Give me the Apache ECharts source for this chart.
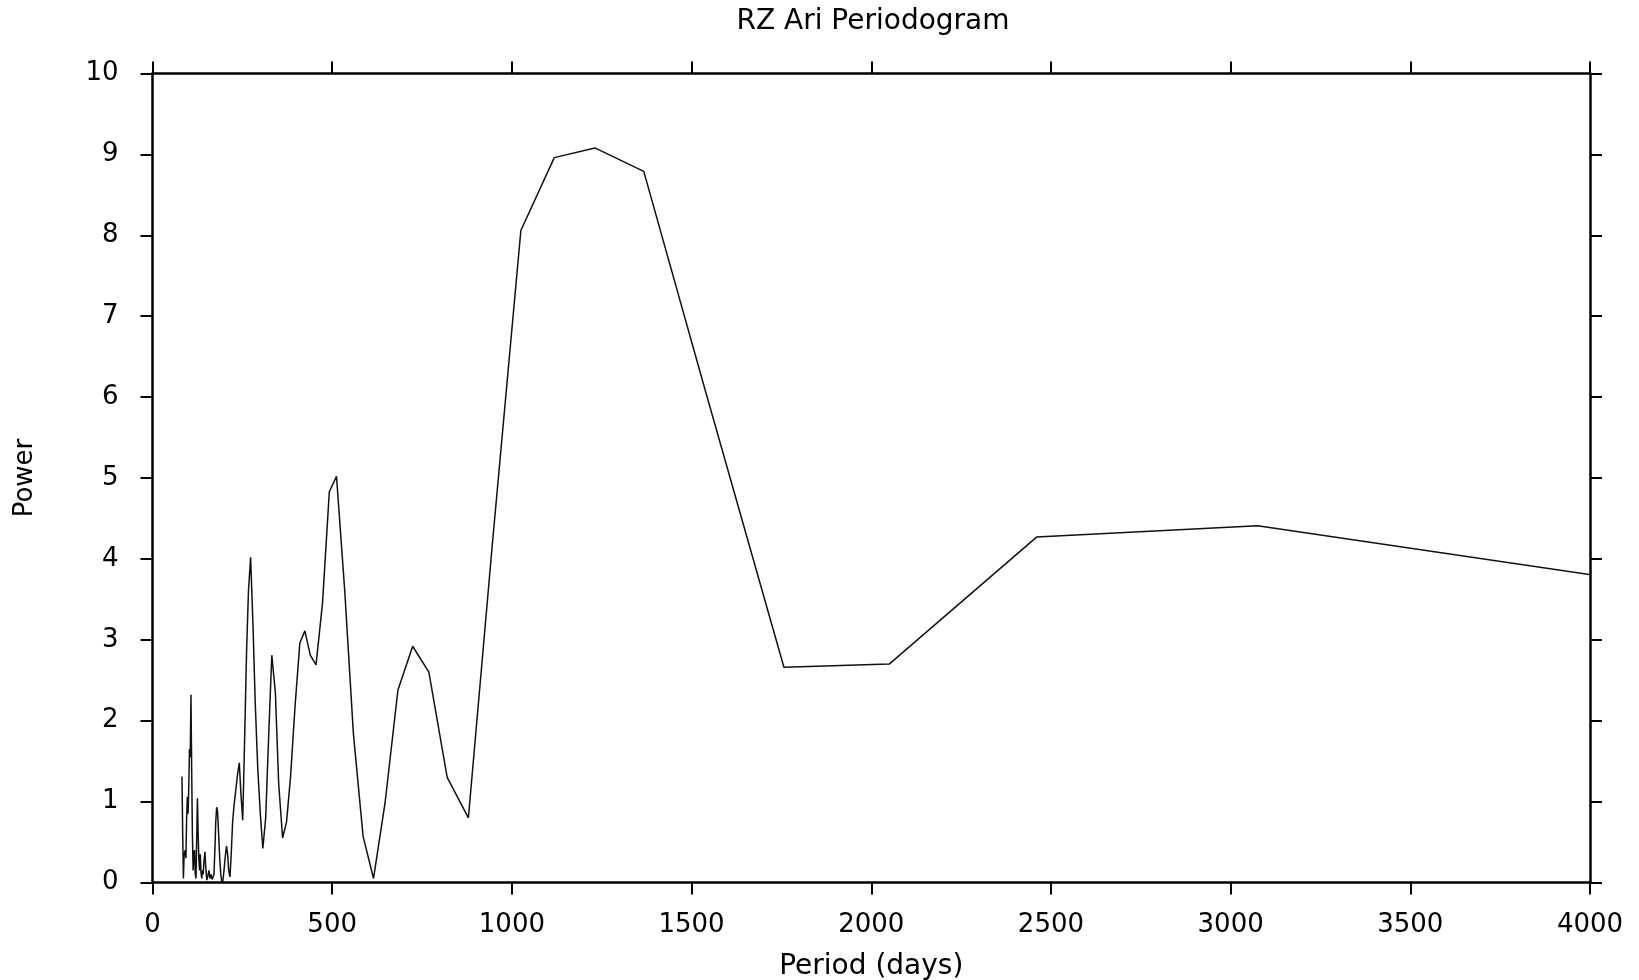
<!DOCTYPE html>
<html>
<head>
<meta charset="utf-8">
<title>RZ Ari Periodogram</title>
<script src="https://cdn.jsdelivr.net/npm/echarts@6/dist/echarts.min.js"></script>
<style>
  html, body { margin: 0; padding: 0; background: #fff; }
  #chart { width: 1639px; height: 980px; }
</style>
</head>
<body>
<div id="chart"></div>
<script>
// Periodogram of RZ Ari: trial period (days) vs. power
const periods = [
  82, 84, 86, 88, 91, 93, 95, 97, 99, 101, 103, 105, 107, 109, 111, 113, 115, 117, 119, 121,
  123, 125, 127, 129, 131, 133, 135, 137, 139, 141, 143, 146, 148, 151, 154, 157, 160, 163, 166, 169,
  171, 174, 176, 178.6, 181, 184, 187, 190, 193, 196, 199, 202, 206, 209, 212, 215.6, 219, 223, 227, 232,
  237, 241.5, 246, 251, 256, 262, 267, 273, 279.5, 286, 293, 300, 307, 315, 324, 332, 342, 351, 362, 373,
  384, 397, 410, 424, 439, 455, 473, 492, 512, 535, 559, 586, 615, 647, 683, 724, 769, 820, 879, 946,
  1025, 1118, 1231, 1367, 1537, 1757, 2050, 2460, 3075, 4100
];
const power = [
  1.31, 0.60, 0.05, 0.35, 0.40, 0.30, 0.80, 1.06, 0.85, 1.20, 1.65, 1.55, 2.32, 1.40, 0.60, 0.15, 0.35, 0.40, 0.10, 0.05,
  0.55, 1.04, 0.60, 0.28, 0.15, 0.35, 0.12, 0.05, 0.15, 0.10, 0.25, 0.38, 0.20, 0.03, 0.08, 0.15, 0.05, 0.10, 0.04, 0.02,
  0.10, 0.45, 0.75, 0.93, 0.88, 0.60, 0.30, 0.10, 0.00, 0.03, 0.15, 0.30, 0.45, 0.35, 0.15, 0.07, 0.35, 0.75, 0.96, 1.15,
  1.35, 1.48, 1.10, 0.77, 1.70, 2.90, 3.60, 4.02, 3.20, 2.20, 1.40, 0.85, 0.42, 0.80, 1.90, 2.81, 2.34, 1.23, 0.55, 0.75,
  1.30, 2.20, 2.96, 3.11, 2.81, 2.69, 3.45, 4.83, 5.02, 3.60, 1.84, 0.57, 0.05, 0.98, 2.38, 2.92, 2.60, 1.30, 0.80, 4.20,
  8.06, 8.96, 9.08, 8.79, 6.10, 2.66, 2.70, 4.27, 4.41, 3.74
];

const xTicks = { min: 0, max: 4000, interval: 500 };
const yTicks = { min: 0, max: 10, interval: 1 };

const FONT = 'DejaVu Sans';
const INK = '#000';

const frameLine = { show: true, onZero: false, lineStyle: { color: INK, width: 2.5 } };
const frameTick = { show: true, inside: false, length: 12, lineStyle: { color: INK, width: 2 } };
const plainNumber = v => String(v);

const chart = echarts.init(document.getElementById('chart'), null, { renderer: 'canvas' });

chart.setOption({
  animation: false,
  backgroundColor: '#fff',
  title: {
    text: 'RZ Ari Periodogram',
    left: 868,
    textAlign: 'center',
    top: 3,
    textStyle: { fontFamily: FONT, fontSize: 28, fontWeight: 'normal', color: INK }
  },
  grid: {
    left: 152.5, right: 49, top: 73.5, bottom: 97.5,
    containLabel: false, outerBoundsMode: 'none'
  },
  xAxis: [
    {
      type: 'value', position: 'bottom',
      min: xTicks.min, max: xTicks.max, interval: xTicks.interval,
      name: 'Period (days)', nameLocation: 'middle', nameGap: 70,
      nameTextStyle: { fontFamily: FONT, fontSize: 28, color: INK },
      axisLine: frameLine, axisTick: frameTick,
      axisLabel: { margin: 30, fontFamily: FONT, fontSize: 26, color: INK, formatter: plainNumber },
      splitLine: { show: false }
    },
    {
      type: 'value', position: 'top',
      min: xTicks.min, max: xTicks.max, interval: xTicks.interval,
      axisLine: frameLine, axisTick: frameTick,
      axisLabel: { show: false }, splitLine: { show: false }
    }
  ],
  yAxis: [
    {
      type: 'value', position: 'left',
      min: yTicks.min, max: yTicks.max, interval: yTicks.interval,
      name: 'Power', nameLocation: 'middle', nameGap: 114,
      nameTextStyle: { fontFamily: FONT, fontSize: 26, color: INK },
      axisLine: frameLine, axisTick: frameTick,
      axisLabel: { margin: 34, fontFamily: FONT, fontSize: 26, color: INK, formatter: plainNumber },
      splitLine: { show: false }
    },
    {
      type: 'value', position: 'right',
      min: yTicks.min, max: yTicks.max, interval: yTicks.interval,
      axisLine: frameLine, axisTick: frameTick,
      axisLabel: { show: false }, splitLine: { show: false }
    }
  ],
  series: [{
    type: 'line',
    xAxisIndex: 0, yAxisIndex: 0,
    data: periods.map((p, i) => [p, power[i]]),
    showSymbol: false,
    clip: true,
    lineStyle: { color: '#111', width: 1.5 }
  }]
});
</script>
</body>
</html>
